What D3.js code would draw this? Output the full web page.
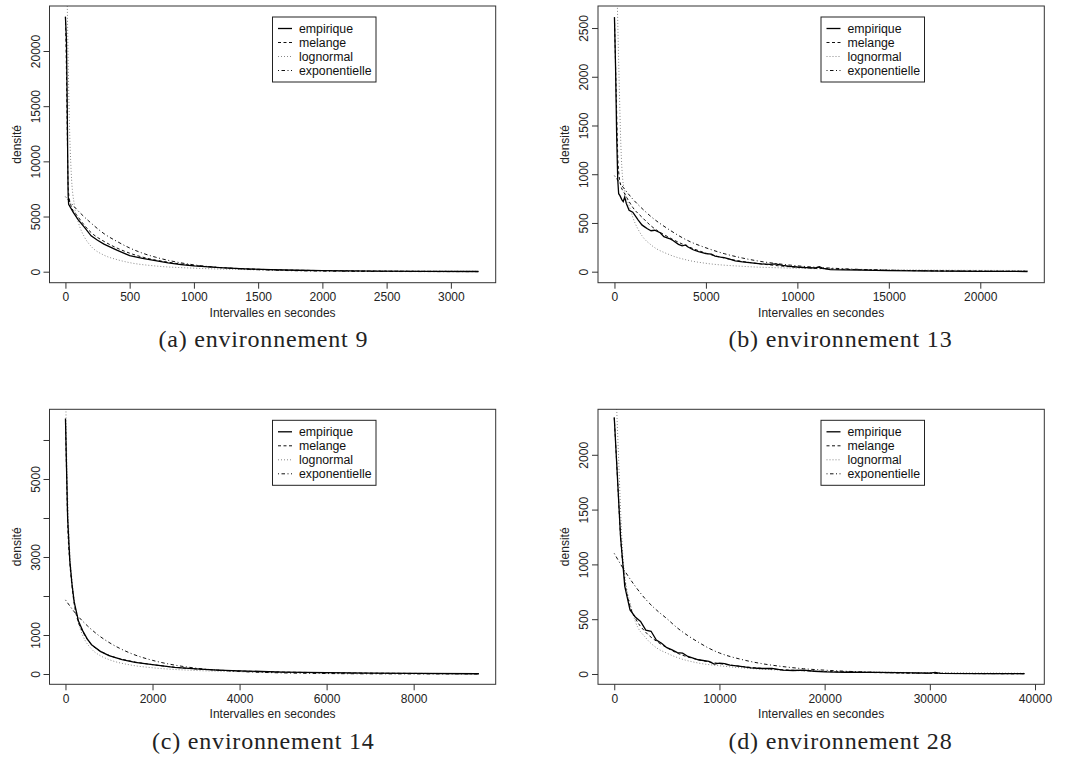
<!DOCTYPE html>
<html>
<head>
<meta charset="utf-8">
<script src="https://cdnjs.cloudflare.com/ajax/libs/d3/7.8.5/d3.min.js"></script>
<style>
  body { margin: 0; background: #fff; }
  svg { display: block; }
  .tick text { font-family: "Liberation Sans", Arial, sans-serif; font-size: 12px; fill: #222; }
</style>
</head>
<body>
<div id="chart"></div>
<script>
// series names, in legend order
const seriesNames = ["empirique", "melange", "lognormal", "exponentielle"];

// (a) environnement 9
const empiriqueA = [[0,23100],[8,21000],[14,15000],[18,10000],[21,7000],[25,6100],[40,5800],[60,5400],[100,4700],[150,4000],[200,3250],[250,2850],[300,2500],[400,1950],[500,1450],[600,1200],[700,1000],[800,800],[900,650],[1000,520],[1200,360],[1400,250],[1600,180],[1800,130],[2000,100],[2400,60],[2800,35],[3214,20]];
const melangeA = [[0,23100],[8,18000],[15,12000],[22,7500],[40,6100],[100,4950],[200,3550],[300,2750],[400,2150],[500,1680],[600,1320],[800,860],[1000,560],[1200,380],[1500,220],[2000,100],[2500,50],[3214,20]];
const lognormalA = [[12,26000],[20,20000],[30,14000],[45,9000],[70,6000],[100,4500],[150,3100],[200,2300],[300,1500],[400,1100],[500,820],[700,520],[1000,320],[1500,170],[2000,100],[2500,65],[3214,40]];
const exponentielleA = [[0,6800],[100,5500],[200,4400],[300,3450],[400,2750],[500,2150],[600,1680],[700,1320],[800,1030],[900,800],[1000,620],[1200,380],[1400,230],[1700,110],[2000,55],[2500,18],[3214,4]];

// (b) environnement 13
const empiriqueB = [[0,2610],[60,2100],[120,1400],[180,940],[230,800],[300,780],[400,740],[480,720],[560,765],[650,700],[800,630],[1000,610],[1150,570],[1300,530],[1500,480],[1650,460],[1800,440],[2000,420],[2200,425],[2500,400],[2700,360],[3000,340],[3200,320],[3500,280],[3700,265],[3900,275],[4000,255],[4300,225],[4600,205],[5000,185],[5300,180],[5500,160],[5800,150],[6000,145],[6300,130],[6600,110],[7000,100],[7500,90],[8000,80],[8500,75],[8800,80],[9200,65],[9600,55],[10000,48],[10500,42],[11000,38],[11200,52],[11400,35],[11800,22],[12500,18],[13500,15],[15000,10],[16500,8],[18000,6],[20000,4],[22578,2]];
const melangeB = [[0,2610],[100,1800],[200,1100],[350,880],[500,820],[800,720],[1000,660],[1500,560],[2000,470],[3000,350],[4000,260],[5000,190],[6000,140],[7000,105],[8000,80],[9000,60],[10000,45],[12000,28],[15000,15],[20000,6],[22578,4]];
const lognormalB = [[150,2800],[250,2000],[350,1300],[450,950],[600,800],[800,680],[1000,560],[1500,370],[2000,275],[3000,175],[4000,118],[5000,86],[7000,55],[10000,35],[15000,20],[22578,12]];
const exponentielleB = [[0,985],[500,860],[1000,745],[1500,650],[2000,565],[3000,430],[4000,320],[5000,245],[6000,185],[7000,140],[8000,105],[9000,80],[10000,60],[12000,35],[14000,20],[17000,9],[20000,4],[22578,2]];

// (c) environnement 14
const empiriqueC = [[0,6550],[20,5500],[50,4000],[100,2900],[150,2300],[200,1850],[300,1350],[400,1100],[500,900],[600,750],[800,580],[1000,470],[1300,370],[1600,300],[2000,240],[2500,170],[3000,130],[3500,100],[4000,80],[5000,50],[6000,33],[7000,22],[8000,14],[9500,7]];
const melangeC = [[0,6500],[20,5400],[50,3900],[100,2850],[150,2250],[200,1800],[300,1320],[400,1080],[500,890],[600,750],[800,590],[1000,480],[1500,330],[2000,240],[2500,175],[3000,130],[4000,78],[5000,50],[6000,33],[8000,15],[9500,8]];
const lognormalC = [[5,7200],[30,5500],[60,4200],[100,3100],[150,2400],[200,1900],[300,1300],[400,980],[600,640],[800,470],[1000,370],[1500,230],[2000,160],[3000,90],[4000,60],[6000,30],[9500,12]];
const exponentielleC = [[0,1900],[250,1530],[500,1240],[750,1000],[1000,810],[1500,530],[2000,350],[2500,230],[3000,150],[4000,65],[5000,28],[6000,12],[7000,5],[9500,1]];

// (d) environnement 28
const empiriqueD = [[0,2340],[300,1800],[600,1250],[1000,800],[1500,584],[2000,520],[2500,480],[3000,400],[3500,390],[4000,310],[4500,280],[5000,240],[5500,220],[6000,195],[6500,190],[7000,160],[8000,130],[9000,115],[9500,90],[10000,100],[10500,95],[11000,80],[12000,70],[13000,55],[14000,50],[15000,52],[16000,35],[17000,32],[18000,35],[19000,25],[20000,20],[22000,16],[25000,14],[27000,12],[30000,8],[30500,15],[31000,6],[35000,4],[39000,3]];
const melangeD = [[0,2340],[300,1800],[600,1250],[1000,850],[1500,620],[2000,510],[3000,380],[4000,300],[5000,240],[6000,190],[7000,155],[8000,130],[10000,95],[12000,70],[15000,45],[18000,30],[22000,18],[26000,11],[30000,7],[35000,4],[39000,3]];
const lognormalD = [[200,2500],[400,2000],[600,1500],[800,1100],[1000,900],[1500,650],[2000,480],[3000,330],[4000,240],[5000,190],[6000,150],[8000,100],[10000,75],[13000,50],[16000,35],[20000,25],[25000,17],[30000,12],[39000,7]];
const exponentielleD = [[0,1100],[1000,940],[2000,800],[3000,680],[4000,585],[5000,505],[6000,420],[7000,350],[8000,290],[9000,235],[10000,192],[12000,135],[14000,95],[16000,68],[18000,48],[20000,35],[25000,15],[30000,6],[35000,3],[39000,2]];

// axis limits and ticks
const xLimits = [[-124, 3349], [-900, 23500], [-367, 9885], [-1545, 40882]];
const yLimits = [[-997, 24078], [-113, 2726], [-264, 6787], [-94, 2415]];
const xTicks = [d3.range(0, 3001, 500), d3.range(0, 20001, 5000), d3.range(0, 8001, 2000), d3.range(0, 40001, 10000)];
const yTicks = [d3.range(0, 20001, 5000), d3.range(0, 2501, 500), d3.range(0, 6001, 1000), d3.range(0, 2001, 500)];
const yTickLabels = [null, null, [0, 1000, 3000, 5000], null];
const captions = ["(a) environnement 9", "(b) environnement 13", "(c) environnement 14", "(d) environnement 28"];

const panelSeries = [
  [empiriqueA, melangeA, lognormalA, exponentielleA],
  [empiriqueB, melangeB, lognormalB, exponentielleB],
  [empiriqueC, melangeC, lognormalC, exponentielleC],
  [empiriqueD, melangeD, lognormalD, exponentielleD]
];

// layout of each plot box on the page
const boxes = [
  {x0: 49.5, x1: 495.7, y0: 6, y1: 282.7, cap: 263.3},
  {x0: 598, x1: 1044.3, y0: 6, y1: 282.7, cap: 840.5},
  {x0: 49.5, x1: 495.7, y0: 409.3, y1: 684.3, cap: 263.3},
  {x0: 598, x1: 1044.3, y0: 409.3, y1: 684.3, cap: 840.5}
];

const styles = [
  {stroke: "#000", dash: null, width: 1.3},
  {stroke: "#111", dash: "3,2.5", width: 1},
  {stroke: "#888", dash: "1,2", width: 1},
  {stroke: "#111", dash: "1,2.5,3.5,2.5", width: 1}
];

const svg = d3.select("#chart").append("svg")
  .attr("width", 1079).attr("height", 760);

const sans = "'Liberation Sans', Arial, sans-serif";

boxes.forEach((b, i) => {
  const x = d3.scaleLinear().domain(xLimits[i]).range([b.x0, b.x1]);
  const y = d3.scaleLinear().domain(yLimits[i]).range([b.y1, b.y0]);
  const g = svg.append("g");

  g.append("clipPath").attr("id", "clip" + i)
    .append("rect").attr("x", b.x0).attr("y", b.y0)
    .attr("width", b.x1 - b.x0).attr("height", b.y1 - b.y0);

  // curves
  const line = d3.line().x(d => x(d[0])).y(d => y(d[1])).curve(d3.curveMonotoneX);
  const lineRaw = d3.line().x(d => x(d[0])).y(d => y(d[1]));
  const order = [2, 3, 1, 0];
  order.forEach(k => {
    g.append("path")
      .attr("clip-path", `url(#clip${i})`)
      .attr("d", k === 0 ? lineRaw(panelSeries[i][k]) : line(panelSeries[i][k]))
      .attr("fill", "none")
      .attr("stroke", styles[k].stroke)
      .attr("stroke-width", styles[k].width)
      .attr("stroke-dasharray", styles[k].dash);
  });

  // box
  g.append("rect")
    .attr("x", b.x0).attr("y", b.y0)
    .attr("width", b.x1 - b.x0).attr("height", b.y1 - b.y0)
    .attr("fill", "none").attr("stroke", "#333").attr("stroke-width", 1);

  // x axis
  const ax = g.append("g").attr("transform", `translate(0,${b.y1})`)
    .call(d3.axisBottom(x).tickValues(xTicks[i]).tickSize(6).tickPadding(4).tickFormat(d3.format("d")));
  ax.attr("font-family", sans);
  ax.select(".domain").remove();
  ax.selectAll(".tick line").attr("stroke", "#333");

  // y axis, labels parallel to axis
  const lbl = yTickLabels[i];
  const ay = g.append("g").attr("transform", `translate(${b.x0},0)`)
    .call(d3.axisLeft(y).tickValues(yTicks[i]).tickSize(6)
      .tickFormat(d => (!lbl || lbl.includes(d)) ? d3.format("d")(d) : ""));
  ay.attr("font-family", sans);
  ay.select(".domain").remove();
  ay.selectAll(".tick line").attr("stroke", "#333");
  ay.selectAll(".tick text")
    .attr("transform", "rotate(-90)")
    .attr("x", 0).attr("y", -10).attr("dy", 0)
    .attr("text-anchor", "middle");

  // axis titles
  g.append("text")
    .attr("x", (b.x0 + b.x1) / 2).attr("y", b.y1 + 34)
    .attr("text-anchor", "middle")
    .style("font-family", sans).style("font-size", "12px").style("fill", "#222")
    .text("Intervalles en secondes");
  g.append("text")
    .attr("transform", `translate(${b.x0 - 29},${(b.y0 + b.y1) / 2}) rotate(-90)`)
    .attr("text-anchor", "middle")
    .style("font-family", sans).style("font-size", "12px").style("fill", "#222")
    .text("densité");

  // legend
  const lx = b.x0 + 223, ly = b.y0 + 11;
  const lg = g.append("g").attr("transform", `translate(${lx},${ly})`);
  lg.append("rect").attr("width", 103.5).attr("height", 65)
    .attr("fill", "#fff").attr("stroke", "#222").attr("stroke-width", 1);
  seriesNames.forEach((name, k) => {
    const yy = 11.5 + k * 14;
    lg.append("line").attr("x1", 5.5).attr("x2", 19.5).attr("y1", yy).attr("y2", yy)
      .attr("stroke", styles[k].stroke).attr("stroke-width", styles[k].width)
      .attr("stroke-dasharray", styles[k].dash);
    lg.append("text").attr("x", 26.5).attr("y", yy).attr("dy", "0.35em")
      .style("font-family", sans).style("font-size", "12.3px").style("fill", "#111")
      .text(name);
  });

  // caption under the panel
  g.append("text")
    .attr("x", b.cap).attr("y", b.y1 + 64.5)
    .attr("text-anchor", "middle")
    .style("font-family", "'Liberation Serif', 'Times New Roman', serif")
    .style("font-size", "24px").style("letter-spacing", "0.8px").style("fill", "#222")
    .text(captions[i]);
});
</script>
</body>
</html>
